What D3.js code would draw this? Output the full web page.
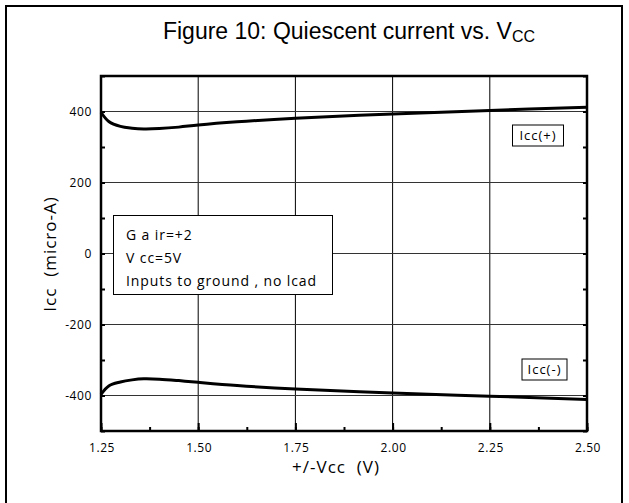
<!DOCTYPE html>
<meta charset="utf-8">
<script src="https://d3js.org/d3.v7.min.js"></script>
<style>
  body { margin: 0; background: #fff; }
  text { fill: #000; white-space: pre; }
</style>
<div id="chart"></div>
<script>
// values
const vcc = [1.25, 1.27, 1.30, 1.33, 1.36, 1.40, 1.45, 1.50, 1.60, 1.75, 2.00, 2.25, 2.50];
const iccPos = [398, 372, 358, 353, 351, 352, 356, 362, 371, 381, 393, 403, 412];
const iccNeg = [-397, -373, -362, -356, -353, -354, -358, -363, -372, -382, -393, -402, -411];
const xTicks = [1.25, 1.50, 1.75, 2.00, 2.25, 2.50];
const yTicks = [-400, -200, 0, 200, 400];
const noteLines = ["G a ir=+2", "V cc=5V", "Inputs to ground , no lcad"];

const W = 629, H = 503;
const plot = {left: 101, top: 76, right: 587, bottom: 431};
const font = "'Open Sans', 'DejaVu Sans', sans-serif";

const svg = d3.select("#chart").append("svg")
    .attr("width", W).attr("height", H);

// outer figure frame (bottom runs off the page)
svg.append("path")
    .attr("d", `M6,${H + 5}V6H622V${H + 5}`)
    .attr("fill", "none").attr("stroke", "#000").attr("stroke-width", 2);

// title
const title = svg.append("text")
    .attr("x", 349).attr("y", 39)
    .attr("text-anchor", "middle")
    .style("font-family", "'Liberation Sans', Arial, sans-serif")
    .style("font-size", "23px");
title.append("tspan").text("Figure 10: Quiescent current vs. V");
title.append("tspan").attr("dy", 3).style("font-size", "16px").text("CC");

const x = d3.scaleLinear().domain([1.25, 2.5]).range([plot.left, plot.right]);
const y = d3.scaleLinear().domain([-500, 500]).range([plot.bottom, plot.top]);

// grid
svg.append("g").selectAll("line.v")
  .data(xTicks.slice(1, -1))
  .join("line")
    .attr("x1", d => x(d)).attr("x2", d => x(d))
    .attr("y1", plot.top).attr("y2", plot.bottom)
    .attr("stroke", "#000").attr("stroke-width", 1);
svg.append("g").selectAll("line.h")
  .data(yTicks)
  .join("line")
    .attr("x1", plot.left).attr("x2", plot.right)
    .attr("y1", d => y(d)).attr("y2", d => y(d))
    .attr("stroke", "#333").attr("stroke-width", 1);

// axes with inward ticks
const yMinor = d3.range(-500, 501, 100);
const xMinor = d3.range(1.25, 2.5001, 0.125);

svg.append("g")
    .attr("transform", `translate(${plot.left},0)`)
    .call(d3.axisRight(y).tickValues(yMinor).tickSize(4).tickFormat(""))
    .call(g => g.select(".domain").remove())
    .selectAll("line").attr("stroke-width", 2);
svg.append("g")
    .attr("transform", `translate(${plot.right},0)`)
    .call(d3.axisLeft(y).tickValues(yMinor).tickSize(4).tickFormat(""))
    .call(g => g.select(".domain").remove())
    .selectAll("line").attr("stroke-width", 2);
svg.append("g")
    .attr("transform", `translate(0,${plot.bottom})`)
    .call(d3.axisTop(x).tickValues(xMinor).tickSize(4).tickFormat(""))
    .call(g => g.select(".domain").remove())
    .selectAll("line").attr("stroke-width", 2);
svg.append("g")
    .attr("transform", `translate(0,${plot.bottom})`)
    .call(d3.axisTop(x).tickValues(xTicks).tickSize(8).tickFormat(""))
    .call(g => g.select(".domain").remove())
    .selectAll("line").attr("stroke-width", 2);

// tick labels
svg.append("g").selectAll("text")
  .data(yTicks)
  .join("text")
    .attr("x", plot.left - 9).attr("y", d => y(d) + 4)
    .attr("text-anchor", "end")
    .style("font-family", font).style("font-size", "12px")
    .style("letter-spacing", "0.6px")
    .text(d => d);
svg.append("g").selectAll("text")
  .data(xTicks)
  .join("text")
    .attr("x", d => x(d) + 1).attr("y", plot.bottom + 21)
    .attr("text-anchor", "middle")
    .style("font-family", font).style("font-size", "12px")
    .style("letter-spacing", "0.6px")
    .text(d => d3.format(".2f")(d));

// plot frame
svg.append("rect")
    .attr("x", plot.left).attr("y", plot.top)
    .attr("width", plot.right - plot.left).attr("height", plot.bottom - plot.top)
    .attr("fill", "none").attr("stroke", "#000").attr("stroke-width", 2.5);

// curves
const line = d3.line()
    .x((d, i) => x(vcc[i]))
    .y(d => y(d))
    .curve(d3.curveCatmullRom.alpha(0.5));
[iccPos, iccNeg].forEach(s => {
  svg.append("path")
      .datum(s)
      .attr("d", line)
      .attr("fill", "none").attr("stroke", "#000").attr("stroke-width", 3);
});

// axis titles
svg.append("text")
    .attr("x", 336).attr("y", 473)
    .attr("text-anchor", "middle")
    .style("font-family", font).style("font-size", "17px")
    .style("letter-spacing", "1px")
    .text("+/-Vcc  (V)");
svg.append("text")
    .attr("transform", `translate(56,254) rotate(-90)`)
    .attr("text-anchor", "middle")
    .style("font-family", font).style("font-size", "17px")
    .style("letter-spacing", "1px")
    .text("Icc  (micro-A)");

// note box
svg.append("rect")
    .attr("x", 113.5).attr("y", 215.5).attr("width", 219).attr("height", 79)
    .attr("fill", "#fff").attr("stroke", "#000").attr("stroke-width", 1);
svg.append("g").selectAll("text")
  .data(noteLines)
  .join("text")
    .attr("x", 126).attr("y", (d, i) => 240 + i * 23)
    .style("font-family", font).style("font-size", "14px")
    .style("letter-spacing", "0.9px")
    .text(d => d);

// series labels
const tags = [{t: "Icc(+)", x0: 512.5, y0: 125, w: 51, h: 21},
              {t: "Icc(-)", x0: 522, y0: 359, w: 45, h: 21}];
tags.forEach(d => {
  svg.append("rect")
      .attr("x", d.x0).attr("y", d.y0).attr("width", d.w).attr("height", d.h)
      .attr("fill", "#fff").attr("stroke", "#000").attr("stroke-width", 1);
  svg.append("text")
      .attr("x", d.x0 + d.w / 2).attr("y", d.y0 + 15)
      .attr("text-anchor", "middle")
      .style("font-family", font).style("font-size", "13px")
      .style("letter-spacing", "1px")
      .text(d.t);
});
</script>
</html>
